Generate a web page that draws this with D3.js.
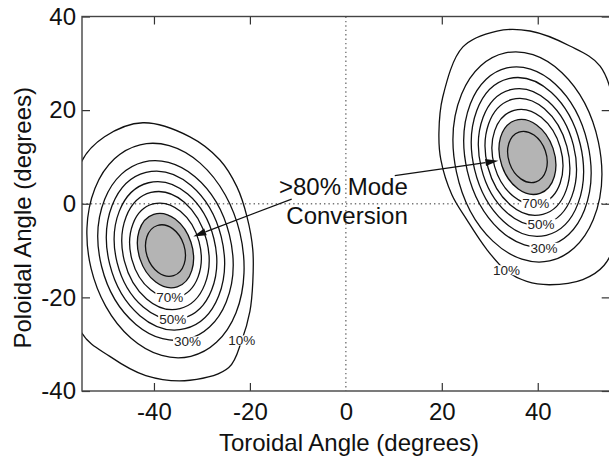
<!DOCTYPE html>
<html><head><meta charset="utf-8">
<script src="https://cdn.jsdelivr.net/npm/d3@7"></script>
<style>
body{margin:0;background:#fff}
text{font-family:"Liberation Sans",Arial,Helvetica,sans-serif;fill:#111}
</style>
</head><body>
<svg id="chart" width="609" height="457"></svg>
<script>
// ---------- data (degrees) ----------
const xTicks = [-40, -20, 0, 20, 40];
const yTicks = [-40, -20, 0, 20, 40];
const xDomain = [-55, 55];
const yDomain = [-40, 40];

// contour levels (%) drawn as tilted ellipses, inner to outer
const levels = [90, 80, 70, 60, 50, 40, 30, 20];

// left lobe
const leftCenter = [-37.6, -10.0];
const leftRx   = [4.00, 5.59, 7.24, 8.84, 10.39, 11.97, 13.72, 15.95];
const leftRy   = [5.63, 8.14, 10.30, 12.79, 14.93, 17.21, 19.49, 23.24];
const leftTilt = [-18, -18, -15, -14, -14, -14, -14, -13.5];
// outermost (10%) left contour, read point by point (cut by the axis)
const left10 = [[-42.3,17.3],[-32.5,14.3],[-26.3,9.4],[-22.7,3.6],[-20.6,-2.8],[-19.4,-9.8],[-19.4,-16.8],[-20.0,-23.0],[-21.7,-29.2],[-24.4,-35.0],[-32.5,-37.7],[-41.7,-36.7],[-49.2,-32.6],[-55.1,-27.5],[-58.6,-9.8],[-55.1,9.0],[-50.3,14.3]];

// right lobe
const rightCenter = [37.85, 10.0];
const rightRx   = [3.94, 5.63, 7.13, 8.51, 9.89, 11.32, 12.87, 15.12];
const rightRy   = [5.61, 8.23, 10.36, 12.71, 14.80, 17.21, 19.51, 22.71];
const rightTilt = [-19, -19, -16, -15, -14, -13.5, -13, -12];
const right10 = [[38.4,36.9],[31.5,36.9],[24.4,33.5],[20.2,22.8],[19.4,15.1],[19.8,9.4],[22.1,1.9],[25.2,-3.4],[29.4,-9.8],[33.4,-14.3],[37.7,-16.6],[42.5,-17.3],[49.4,-16.2],[53.8,-13.2],[56.3,-7.7],[57.1,5.1],[56.3,19.0],[53.0,29.4],[46.7,33.7]];

// inline contour labels
const labelText = ["70%","50%","30%","10%","70%","50%","30%","10%"];
const labelPos  = [[-36.7,-20.0],[-36.1,-24.7],[-33.0,-29.4],[-21.7,-29.2],[39.6,0.2],[40.7,-4.3],[41.3,-9.4],[33.5,-14.2]];

// annotation
const noteLines = [">80% Mode", "Conversion"];
const notePos = [[12.9, 1.9], [12.9, -4.3]];
const arrowFrom = [[-11.3, 1.0], [10.2, 6.0]];
const arrowTo   = [[-31.8, -7.0], [31.8, 9.2]];

// ---------- drawing ----------
const svg = d3.select("#chart");
const L = 82, R = 609.7, T = 16.5, B = 391;
const x = d3.scaleLinear().domain(xDomain).range([L, R]);
const y = d3.scaleLinear().domain(yDomain).range([B, T]);

svg.append("defs").append("clipPath").attr("id","plot")
  .append("rect").attr("x",L).attr("y",T).attr("width",R-L).attr("height",B-T);
const plot = svg.append("g").attr("clip-path","url(#plot)");

// dotted zero lines
plot.append("line").attr("x1",x(0)).attr("x2",x(0)).attr("y1",T).attr("y2",B)
  .attr("stroke","#777").attr("stroke-width",1.4).attr("stroke-dasharray","1.4 3");
plot.append("line").attr("x1",L).attr("x2",R).attr("y1",y(0)).attr("y2",y(0))
  .attr("stroke","#777").attr("stroke-width",1.4).attr("stroke-dasharray","1.4 3");

const ellipses = [];
levels.forEach((lev,i)=>{
  ellipses.push({lev, c:leftCenter, rx:leftRx[i], ry:leftRy[i], tilt:leftTilt[i]});
  ellipses.push({lev, c:rightCenter, rx:rightRx[i], ry:rightRy[i], tilt:rightTilt[i]});
});
const ell = sel => sel
  .attr("cx",d=>x(d.c[0])).attr("cy",d=>y(d.c[1]))
  .attr("rx",d=>x(d.c[0]+d.rx)-x(d.c[0])).attr("ry",d=>y(d.c[1])-y(d.c[1]+d.ry))
  .attr("transform",d=>`rotate(${d.tilt},${x(d.c[0])},${y(d.c[1])})`);

// gray fill for >80%
plot.selectAll("ellipse.fill").data(ellipses.filter(d=>d.lev===80)).join("ellipse")
  .attr("class","fill").call(ell).attr("fill","#b4b4b4").attr("stroke","none");

plot.selectAll("ellipse.cl").data(ellipses).join("ellipse")
  .attr("class","cl").call(ell)
  .attr("fill","none").attr("stroke","#111").attr("stroke-width",1.3);

const line = d3.line().x(d=>x(d[0])).y(d=>y(d[1])).curve(d3.curveCatmullRomClosed.alpha(0.5));
plot.selectAll("path.outer").data([left10, right10]).join("path")
  .attr("class","outer").attr("d",line)
  .attr("fill","none").attr("stroke","#111").attr("stroke-width",1.3);

// labels with gaps
const lab = plot.selectAll("g.lab").data(labelText.map((t,i)=>({t, p:labelPos[i]}))).join("g")
  .attr("class","lab").attr("transform",d=>`translate(${x(d.p[0])},${y(d.p[1])})`);
lab.append("rect").attr("fill","#fff");
lab.append("text").attr("text-anchor","middle").attr("dy","0.36em")
  .attr("font-size",13.5).style("fill","#222").text(d=>d.t);
lab.each(function(){
  const g = d3.select(this);
  const w = g.select("text").node().getComputedTextLength();
  g.select("rect").attr("x",-w/2-1).attr("y",-5).attr("width",w+2).attr("height",10);
});

// annotation text
svg.selectAll("text.note").data(noteLines).join("text").attr("class","note")
  .attr("x",(d,i)=>x(notePos[i][0])).attr("y",(d,i)=>y(notePos[i][1]))
  .attr("text-anchor","end").attr("font-size",24).text(d=>d);

// arrows
arrowFrom.forEach((f,i)=>{
  const x1=x(f[0]), y1=y(f[1]), x2=x(arrowTo[i][0]), y2=y(arrowTo[i][1]);
  const a = Math.atan2(y2-y1, x2-x1), len=13, hw=3.6;
  const bx = x2 - len*Math.cos(a), by = y2 - len*Math.sin(a);
  svg.append("line").attr("x1",x1).attr("y1",y1).attr("x2",bx).attr("y2",by)
    .attr("stroke","#111").attr("stroke-width",1.2);
  svg.append("path").attr("fill","#111")
    .attr("d",`M${x2},${y2}L${bx - hw*Math.sin(a)},${by + hw*Math.cos(a)}L${bx + hw*Math.sin(a)},${by - hw*Math.cos(a)}Z`);
});

// axes (ticks inward)
const fmt = d => String(d);
const tickStyle = g => { g.select(".domain").remove(); g.selectAll(".tick line").attr("stroke","#333").attr("stroke-width",1.2); };
svg.append("g").attr("transform",`translate(0,${B})`)
  .call(d3.axisBottom(x).tickValues(xTicks).tickSize(-8).tickPadding(12).tickFormat(fmt))
  .call(tickStyle)
  .call(g=>g.selectAll(".tick").filter(d=>d===0).select("line").remove())
  .call(g=>g.selectAll("text").attr("font-size",24).style("fill","#111").attr("font-family",null));
svg.append("g").attr("transform",`translate(0,${T})`)
  .call(d3.axisTop(x).tickValues(xTicks).tickSize(-8).tickFormat(""))
  .call(tickStyle)
  .call(g=>g.selectAll(".tick").filter(d=>d===0).select("line").remove());
svg.append("g").attr("transform",`translate(${L},0)`)
  .call(d3.axisLeft(y).tickValues(yTicks).tickSize(-8).tickPadding(6).tickFormat(fmt))
  .call(tickStyle)
  .call(g=>g.selectAll("text").attr("font-size",24).style("fill","#111").attr("font-family",null));
svg.append("g").attr("transform",`translate(${R},0)`)
  .call(d3.axisRight(y).tickValues(yTicks).tickSize(-8).tickFormat(""))
  .call(tickStyle);

// frame
svg.append("rect").attr("x",L).attr("y",T).attr("width",R-L).attr("height",B-T)
  .attr("fill","none").attr("stroke","#444").attr("stroke-width",1.4);

// axis titles
svg.append("text").attr("x",349).attr("y",451).attr("text-anchor","middle")
  .attr("font-size",24).text("Toroidal Angle (degrees)");
svg.append("text").attr("transform",`translate(31,${(T+B)/2+14}) rotate(-90)`)
  .attr("text-anchor","middle").attr("font-size",24).text("Poloidal Angle (degrees)");
</script>
</body></html>
